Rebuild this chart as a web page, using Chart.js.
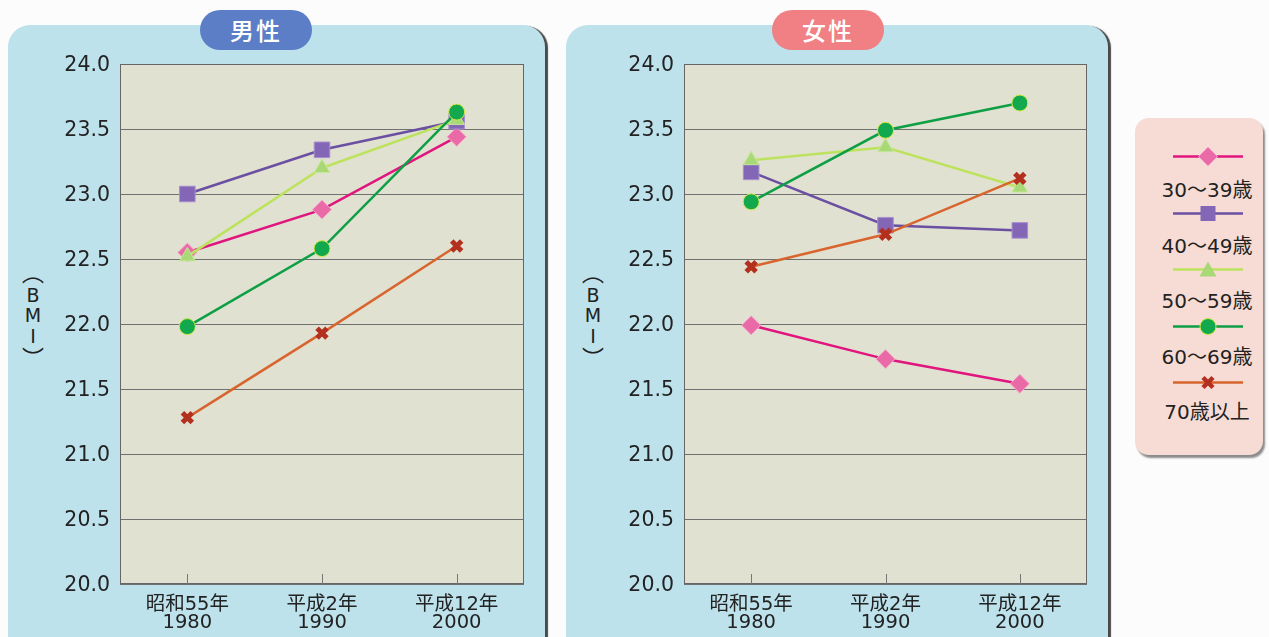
<!DOCTYPE html>
<html lang="ja">
<head>
<meta charset="utf-8">
<title>年齢階級別 BMI の推移</title>
<script src="https://cdn.jsdelivr.net/npm/chart.js@4/dist/chart.umd.min.js"></script>
<style>
  html, body { margin: 0; padding: 0; background: #fcfcfc; }
  body { width: 1269px; height: 637px; position: relative; overflow: hidden;
         font-family: "DejaVu Sans", "Noto Sans CJK JP", sans-serif; }
  .panel { position: absolute; top: 25px; height: 660px; background: #bde2ec;
           border-radius: 22px; box-shadow: 3px 1px 1px #4a4a4a; }
  .pill { position: absolute; top: 10px; height: 40px; width: 112px; border-radius: 20px;
          color: #fff; font-family: "Noto Sans CJK JP", sans-serif; font-size: 24px;
          line-height: 40px; text-align: center; font-weight: 500; letter-spacing: 2px; }
  .ytitle { position: absolute; top: 261px; width: 30px; text-align: center;
            font-size: 19px; line-height: 20.5px; color: #222; }
  .ytitle .cjk { font-family: "Noto Sans CJK JP", sans-serif; font-size: 22px; }
  canvas { position: absolute; }
  .legend { position: absolute; left: 1135px; top: 118px; width: 128px; height: 337px;
            background: #f6dcd5; border-radius: 14px; box-shadow: 2px 3px 2px rgba(0,0,0,0.45); }
  .lg-line { position: absolute; left: 38px; }
  .lg-text { position: absolute; left: 0; width: 144px; text-align: center; font-size: 20px;
             color: #222; line-height: 24px; }
</style>
</head>
<body>
<div class="panel" style="left:8px; width:537px;"></div>
<div class="panel" style="left:566px; width:542px;"></div>
<div class="pill" style="left:200px; background:#5b7ec6;">男性</div>
<div class="pill" style="left:772px; background:#f08084;">女性</div>
<div class="ytitle" style="left:18px;"><span class="cjk">︵</span><br>B<br>M<br>I<br><span class="cjk">︶</span></div>
<div class="ytitle" style="left:578px;"><span class="cjk">︵</span><br>B<br>M<br>I<br><span class="cjk">︶</span></div>
<canvas id="male" width="537" height="607" style="left:8px; top:30px;"></canvas>
<canvas id="female" width="542" height="607" style="left:566px; top:30px;"></canvas>
<div class="legend" id="legend"></div>

<script>
// Survey years (two-line category labels)
const years = [['昭和55年', '1980'], ['平成2年', '1990'], ['平成12年', '2000']];
const ageGroups = ['30〜39歳', '40〜49歳', '50〜59歳', '60〜69歳', '70歳以上'];
const yTicks = [20.0, 20.5, 21.0, 21.5, 22.0, 22.5, 23.0, 23.5, 24.0];

// Mean BMI, men
const male30 = [22.55, 22.88, 23.44];
const male40 = [23.00, 23.34, 23.56];
const male50 = [22.52, 23.20, 23.57];
const male60 = [21.98, 22.58, 23.63];
const male70 = [21.28, 21.93, 22.60];

// Mean BMI, women
const female30 = [21.99, 21.73, 21.54];
const female40 = [23.17, 22.76, 22.72];
const female50 = [23.26, 23.36, 23.05];
const female60 = [22.94, 23.49, 23.70];
const female70 = [22.44, 22.69, 23.12];

const fontStack = '"DejaVu Sans", "Noto Sans CJK JP", sans-serif';

const styles = [
  { line: '#e0157e', fill: '#ea6aa8', point: 'rectRot', radius: 9.5, bw: 1, bc: '#f7a9cc' },
  { line: '#6a4fa2', fill: '#8466b6', point: 'rect', radius: 11, bw: 1, bc: '#a58fcf' },
  { line: '#bde35e', fill: '#a9d877', point: 'triangle', radius: 9, bw: 1, bc: '#c5e89a' },
  { line: '#0e9f45', fill: '#12a84e', point: 'circle', radius: 8, bw: 1, bc: '#d8e84a' },
  { line: '#d8652e', fill: '#b3301f', point: 'crossRot', radius: 7, bw: 5, bc: '#b3301f' }
];

function makeDatasets(series) {
  return series.map((values, i) => ({
    label: ageGroups[i],
    data: values,
    borderColor: styles[i].line,
    borderWidth: 2.5,
    pointStyle: styles[i].point,
    pointRadius: styles[i].radius,
    pointBackgroundColor: styles[i].fill,
    pointBorderColor: styles[i].bc,
    pointBorderWidth: styles[i].bw,
    tension: 0,
    fill: false,
    order: series.length - i
  }));
}

// Plot background, frame and inward category ticks
const plotFrame = {
  id: 'plotFrame',
  beforeDraw(chart) {
    const { ctx, chartArea: a } = chart;
    ctx.save();
    ctx.fillStyle = '#e1e1d1';
    ctx.fillRect(a.left, a.top, a.right - a.left, a.bottom - a.top);
    ctx.restore();
  },
  beforeDatasetsDraw(chart) {
    const { ctx, chartArea: a, scales } = chart;
    ctx.save();
    ctx.strokeStyle = '#666';
    ctx.lineWidth = 1;
    ctx.strokeRect(a.left + 0.5, a.top + 0.5, a.right - a.left - 1, a.bottom - a.top - 1);
    ctx.strokeStyle = '#777';
    years.forEach((_, i) => {
      const x = Math.round(scales.x.getPixelForValue(i)) + 0.5;
      ctx.beginPath();
      ctx.moveTo(x, a.bottom);
      ctx.lineTo(x, a.bottom - 10);
      ctx.stroke();
    });
    ctx.restore();
  }
};

function makeChart(id, series, axisWidth) {
  return new Chart(document.getElementById(id), {
    type: 'line',
    data: { labels: years, datasets: makeDatasets(series) },
    plugins: [plotFrame],
    options: {
      responsive: false,
      animation: false,
      layout: { padding: { top: 34, right: 21, left: 0, bottom: 0 } },
      plugins: { legend: { display: false }, tooltip: { enabled: false } },
      scales: {
        x: {
          offset: true,
          grid: { display: false, drawTicks: false },
          border: { display: false },
          ticks: {
            color: '#222', padding: 11, maxRotation: 0,
            font: { family: fontStack, size: 19.5, lineHeight: 0.97 }
          },
          afterFit(s) { s.height = 53; }
        },
        y: {
          min: yTicks[0],
          max: yTicks[yTicks.length - 1],
          afterBuildTicks(s) { s.ticks = yTicks.map(v => ({ value: v })); },
          ticks: {
            color: '#222', padding: 10, labelOffset: 2,
            font: { family: fontStack, size: 20.5 },
            callback: v => Number(v).toFixed(1)
          },
          grid: { color: '#707070', lineWidth: 1, drawTicks: false },
          border: { display: false },
          afterFit(s) { s.width = axisWidth; }
        }
      }
    }
  });
}

makeChart('male', [male30, male40, male50, male60, male70], 112);
makeChart('female', [female30, female40, female50, female60, female70], 118);

// Shared legend: line + marker above each age label
const markerSvg = [
  '<polygon points="35,-1 44.5,8.5 35,18 25.5,8.5" fill="#ea6aa8" stroke="#f7a9cc" stroke-width="1"/>',
  '<rect x="27.5" y="1" width="15" height="15" fill="#8466b6"/>',
  '<polygon points="35,0.5 43.5,15.5 26.5,15.5" fill="#a9d877"/>',
  '<circle cx="35" cy="8.5" r="8" fill="#12a84e" stroke="#d8e84a" stroke-width="1"/>',
  '<path d="M30,3.5 L40,13.5 M40,3.5 L30,13.5" stroke="#b3301f" stroke-width="4.5"/>'
];
const legend = document.getElementById('legend');
ageGroups.forEach((name, i) => {
  const lineTop = 30 + i * 56.5;
  const textTop = 60 + i * 55.5;
  legend.insertAdjacentHTML('beforeend',
    '<svg class="lg-line" style="top:' + lineTop + 'px" width="70" height="18" viewBox="0 0 70 18" overflow="visible">' +
    '<line x1="0" y1="8.5" x2="70" y2="8.5" stroke="' + styles[i].line + '" stroke-width="2.5"/>' +
    markerSvg[i] + '</svg>' +
    '<div class="lg-text" style="top:' + textTop + 'px">' + name + '</div>');
});
</script>
</body>
</html>
